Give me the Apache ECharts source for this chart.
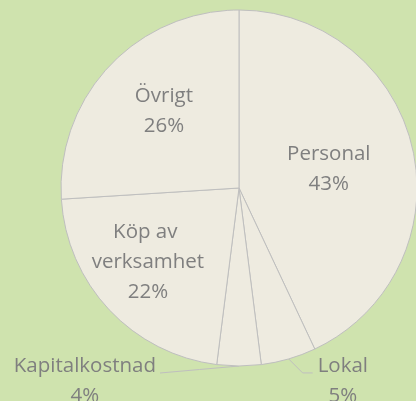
<!DOCTYPE html>
<html>
<head>
<meta charset="utf-8">
<script src="https://cdn.jsdelivr.net/npm/echarts@6/dist/echarts.min.js"></script>
<style>
  html, body { margin: 0; padding: 0; background: #cfe3ae; }
  #chart { width: 416px; height: 401px; }
</style>
</head>
<body>
<div id="chart"></div>
<script>
// kostnadsfördelning
var categories = ['Personal', 'Lokal', 'Kapitalkostnad', 'Köp av verksamhet', 'Övrigt'];
var shares = [43, 5, 4, 22, 26];

// var etikett hamnar (inne i tårtbiten eller utanför med linje)
var labelOffsets = {
  'Personal': [0, 1.5],
  'Köp av verksamhet': [-24, 11],
  'Övrigt': [-8, -14]
};

var chart = echarts.init(document.getElementById('chart'));

var pieData = categories.map(function (name, i) {
  var item = { name: name, value: shares[i] };
  if (labelOffsets[name]) {
    item.label = { position: 'inside', offset: labelOffsets[name] };
    if (name === 'Köp av verksamhet') {
      item.label.width = 130;
      item.label.overflow = 'break';
    }
  } else {
    item.label = { position: 'outside' };
    item.labelLine = { show: true };
  }
  return item;
});

chart.setOption({
  backgroundColor: '#cfe3ae',
  animation: false,
  series: [
    {
      type: 'pie',
      center: [239, 188],
      radius: 178,
      startAngle: 90,
      clockwise: true,
      avoidLabelOverlap: false,
      emphasis: { disabled: true },
      itemStyle: {
        color: '#eeebe0',
        borderColor: '#bfbfbf',
        borderWidth: 1
      },
      label: {
        show: true,
        formatter: '{b}\n{d}%',
        color: '#7f7f7f',
        fontFamily: 'Open Sans',
        fontSize: 20.5,
        lineHeight: 30,
        align: 'center'
      },
      labelLine: {
        show: false,
        lineStyle: { color: '#bfbfbf', width: 1 }
      },
      labelLayout: function (params) {
        var name = categories[params.dataIndex];
        var pts = params.labelLinePoints;
        if (!pts || labelOffsets[name]) return;
        var a = pts[0];
        var w = params.labelRect.width;
        if (name === 'Kapitalkostnad') {
          var end = [a[0] - 79, a[1] + 7];
          return {
            x: end[0] - 4 - w / 2,
            y: end[1] + 8,
            align: 'center',
            verticalAlign: 'middle',
            labelLinePoints: [a, [(a[0] + end[0]) / 2, (a[1] + end[1]) / 2], end]
          };
        }
        var elbow = [a[0] + 14, a[1] + 14];
        var tail = [elbow[0] + 10, elbow[1]];
        return {
          x: tail[0] + 5 + w / 2,
          y: tail[1] + 8,
          align: 'center',
          verticalAlign: 'middle',
          labelLinePoints: [a, elbow, tail]
        };
      },
      data: pieData
    }
  ]
});
</script>
</body>
</html>
